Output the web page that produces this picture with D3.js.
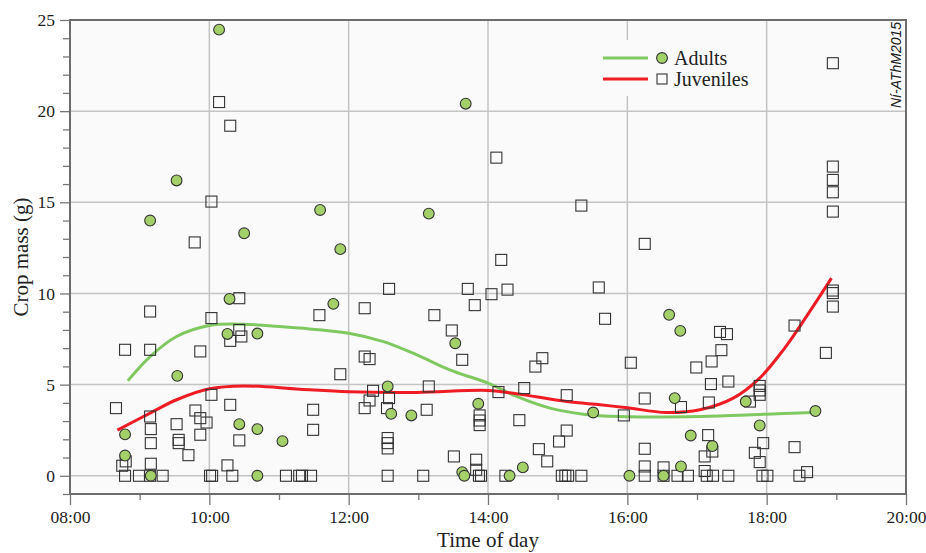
<!DOCTYPE html>
<html>
<head>
<meta charset="utf-8">
<script src="https://cdn.jsdelivr.net/npm/d3@7"></script>
<style>
  body { margin: 0; background: #fff; }
  text { font-family: "Liberation Serif", "Times New Roman", serif; fill: #222; }
</style>
</head>
<body>
<div id="chart"></div>
<script>
// adults: [hour of day, crop mass g]
var adults = [
  [10.14, 24.47], [13.68, 20.41], [9.53, 16.2], [11.59, 14.58], [9.15, 14.0], [13.15, 14.38],
  [10.50, 13.3], [11.88, 12.43], [10.29, 9.70], [11.78, 9.43], [10.26, 7.78], [10.69, 7.80],
  [13.53, 7.27], [9.54, 5.48], [12.56, 4.90], [13.86, 3.95], [12.61, 3.40], [12.90, 3.31],
  [15.51, 3.47], [10.43, 2.83], [10.69, 2.56], [8.79, 2.27], [11.05, 1.90], [8.79, 1.11],
  [9.16, 0], [10.69, 0], [13.63, 0.20], [13.66, 0], [14.31, 0], [14.50, 0.46],
  [16.60, 8.83], [16.76, 7.95], [16.68, 4.26], [17.70, 4.07], [18.70, 3.55], [17.90, 2.76],
  [16.91, 2.21], [17.22, 1.63], [16.77, 0.51], [16.03, 0], [16.52, 0]
];

var juveniles = [
  [10.14, 20.5], [10.30, 19.2], [10.03, 15.04], [9.79, 12.8], [14.12, 17.45], [15.34, 14.82],
  [14.19, 11.84], [18.95, 22.63], [18.95, 16.96], [18.95, 16.23], [18.95, 15.55], [18.95, 14.49],
  [16.25, 12.72],
  [10.43, 9.74], [9.15, 9.01], [10.03, 8.65], [10.43, 8.0], [10.46, 7.64], [10.30, 7.40],
  [8.79, 6.91], [9.15, 6.91], [9.87, 6.82], [10.03, 4.44], [8.66, 3.71], [10.30, 3.89],
  [9.80, 3.58], [9.15, 3.25], [9.87, 3.16], [9.16, 2.56], [9.96, 2.92], [9.53, 2.83],
  [9.56, 1.97], [9.56, 1.79], [9.87, 2.25], [10.43, 1.94], [9.16, 1.79], [9.70, 1.13],
  [8.75, 0.55], [8.80, 0.79], [9.16, 0.66], [10.26, 0.57], [11.49, 3.62], [11.49, 2.52],
  [11.58, 8.81],
  [8.79, 0], [8.99, 0], [9.15, 0], [9.33, 0], [10.01, 0], [10.04, 0], [10.33, 0], [11.10, 0],
  [11.29, 0], [11.33, 0], [11.46, 0],
  [12.58, 10.25], [13.71, 10.25], [14.05, 9.96], [14.28, 10.21], [15.59, 10.33], [12.23, 9.19],
  [13.81, 9.36], [13.23, 8.81], [15.68, 8.61], [13.48, 7.97], [13.63, 6.36], [12.23, 6.54],
  [12.30, 6.40], [11.88, 5.57], [14.78, 6.45], [14.68, 5.99], [13.15, 4.90], [14.52, 4.81],
  [14.15, 4.59], [12.35, 4.66], [12.58, 4.26], [12.30, 4.13], [15.13, 4.42], [12.23, 3.71],
  [12.55, 3.71], [13.12, 3.62], [13.88, 3.31], [13.88, 3.03], [13.88, 2.78], [14.45, 3.05],
  [12.56, 2.07], [12.56, 1.79], [12.56, 1.50], [13.51, 1.06], [13.83, 0.88], [13.83, 0.33],
  [14.73, 1.46], [14.85, 0.79], [15.02, 1.88], [15.13, 2.48],
  [12.56, 0], [13.07, 0], [13.87, 0], [13.90, 0], [14.25, 0], [15.06, 0], [15.11, 0],
  [15.15, 0], [15.34, 0],
  [18.95, 10.16], [18.95, 10.02], [18.95, 9.28], [18.40, 8.24], [17.33, 7.89], [17.43, 7.77],
  [17.35, 6.89], [17.21, 6.27], [16.99, 5.94], [16.05, 6.20], [18.85, 6.74], [17.20, 5.03],
  [17.45, 5.17], [17.90, 4.93], [17.90, 4.68], [17.90, 4.44], [16.25, 4.24], [16.77, 3.77],
  [17.17, 4.02], [17.76, 4.07], [15.95, 3.31], [17.16, 2.23], [17.22, 1.33], [17.11, 1.06],
  [17.95, 1.79], [17.83, 1.26], [17.90, 0.75], [18.40, 1.57], [16.25, 1.48], [16.25, 0.51],
  [16.52, 0.46], [17.11, 0.26], [18.58, 0.20],
  [16.25, 0], [16.52, 0], [16.72, 0], [16.87, 0], [17.14, 0], [17.23, 0], [17.45, 0],
  [17.94, 0], [18.01, 0], [18.47, 0]
];

// smoothed trend lines
var adultsFit = [
  [8.83, 5.21], [9.15, 6.54], [9.53, 7.64], [10.0, 8.24], [10.49, 8.31], [11.3, 8.1],
  [12.0, 7.82], [12.5, 7.36], [12.98, 6.63], [13.45, 5.81], [14.0, 5.08], [14.41, 4.35],
  [14.89, 3.71], [15.37, 3.38], [15.89, 3.25], [17.04, 3.25], [18.0, 3.38], [18.67, 3.47]
];
var juvFit = [
  [8.68, 2.5], [9.15, 3.44], [9.53, 4.17], [10.0, 4.77], [10.49, 4.93], [11.3, 4.75],
  [12.0, 4.61], [12.98, 4.57], [14.0, 4.68], [14.41, 4.5], [15.13, 4.07], [15.61, 3.89],
  [16.0, 3.73], [16.56, 3.47], [17.04, 3.62], [17.52, 4.26], [17.90, 5.36], [18.24, 6.91],
  [18.57, 8.73], [18.93, 10.84]
];

var xTicks = [8, 10, 12, 14, 16, 18, 20];
var yTicks = [0, 5, 10, 15, 20, 25];

var svgWidth = 926;
var svgHeight = 553;
var plot = { left: 70, right: 906, top: 20, bottom: 494 };

var svg = d3.select("#chart")
  .append("svg")
  .attr("width", svgWidth)
  .attr("height", svgHeight);

var x = d3.scaleLinear().domain([8, 20]).range([plot.left, plot.right]);
var y = d3.scaleLinear().domain([-1, 25]).range([plot.bottom, plot.top]);

// plot background
svg.append("rect")
  .attr("x", plot.left).attr("y", plot.top)
  .attr("width", plot.right - plot.left).attr("height", plot.bottom - plot.top)
  .attr("fill", "#fafafa");

// grid
svg.selectAll(".vgrid")
  .data(xTicks.slice(1, -1))
  .enter().append("line")
  .attr("x1", d => x(d)).attr("x2", d => x(d))
  .attr("y1", plot.top).attr("y2", plot.bottom)
  .attr("stroke", "#c4c4c4").attr("stroke-width", 1.5);

svg.selectAll(".hgrid")
  .data(yTicks.slice(0, -1))
  .enter().append("line")
  .attr("x1", plot.left).attr("x2", plot.right)
  .attr("y1", d => y(d)).attr("y2", d => y(d))
  .attr("stroke", "#c4c4c4").attr("stroke-width", 1.5);

// legend box covers the grid
svg.append("rect")
  .attr("x", 598).attr("y", 40)
  .attr("width", 160).attr("height", 56)
  .attr("fill", "#fafafa");

// axes
var fmt = d => (d < 10 ? "0" : "") + d + ":00";

svg.append("g")
  .attr("transform", `translate(0, ${plot.bottom})`)
  .call(d3.axisBottom(x).tickValues(xTicks).tickFormat(fmt).tickSize(11).tickPadding(6));
svg.append("g")
  .attr("transform", `translate(0, ${plot.bottom})`)
  .call(d3.axisBottom(x).tickValues(d3.range(9, 20, 2)).tickFormat("").tickSize(6));

svg.append("g")
  .attr("transform", `translate(${plot.left}, 0)`)
  .call(d3.axisLeft(y).tickValues(yTicks).tickSize(10).tickPadding(5));
svg.append("g")
  .attr("transform", `translate(${plot.left}, 0)`)
  .call(d3.axisLeft(y).tickValues(d3.range(-1, 25).filter(d => d % 5 != 0)).tickFormat("").tickSize(7));

svg.selectAll(".domain").remove();
svg.selectAll(".tick line").attr("stroke", "#777").attr("stroke-width", 1.3);
svg.selectAll(".tick text")
  .style("font-family", "'Liberation Serif', serif")
  .style("font-size", "17.5px")
  .style("fill", "#222");

// frame
svg.append("rect")
  .attr("x", plot.left).attr("y", plot.top)
  .attr("width", plot.right - plot.left).attr("height", plot.bottom - plot.top)
  .attr("fill", "none")
  .attr("stroke", "#6d6d6d").attr("stroke-width", 2);

// trend lines
var line = d3.line()
  .x(d => x(d[0]))
  .y(d => y(d[1]))
  .curve(d3.curveCatmullRom);

svg.append("path")
  .datum(adultsFit)
  .attr("d", line)
  .attr("fill", "none")
  .attr("stroke", "#80c860")
  .attr("stroke-width", 3);

svg.append("path")
  .datum(juvFit)
  .attr("d", line)
  .attr("fill", "none")
  .attr("stroke", "#ee1c24")
  .attr("stroke-width", 3);

// points
svg.selectAll(".juv")
  .data(juveniles)
  .enter().append("rect")
  .attr("x", d => x(d[0]) - 5.5)
  .attr("y", d => y(d[1]) - 5.5)
  .attr("width", 11).attr("height", 11)
  .attr("fill", "none")
  .attr("stroke", "#333")
  .attr("stroke-width", 1.1);

svg.selectAll(".adult")
  .data(adults)
  .enter().append("circle")
  .attr("cx", d => x(d[0]))
  .attr("cy", d => y(d[1]))
  .attr("r", 5.4)
  .attr("fill", "#a4d06a")
  .attr("stroke", "#333")
  .attr("stroke-width", 1.1);

// legend
svg.append("line")
  .attr("x1", 603).attr("x2", 648).attr("y1", 58).attr("y2", 58)
  .attr("stroke", "#80c860").attr("stroke-width", 3);
svg.append("line")
  .attr("x1", 603).attr("x2", 648).attr("y1", 79).attr("y2", 79)
  .attr("stroke", "#ee1c24").attr("stroke-width", 3);
svg.append("circle")
  .attr("cx", 662).attr("cy", 58).attr("r", 5.4)
  .attr("fill", "#a4d06a").attr("stroke", "#333").attr("stroke-width", 1.1);
svg.append("rect")
  .attr("x", 657).attr("y", 74).attr("width", 10).attr("height", 10)
  .attr("fill", "none").attr("stroke", "#333").attr("stroke-width", 1.1);
svg.append("text")
  .attr("x", 674).attr("y", 64.5)
  .attr("font-size", "20px")
  .text("Adults");
svg.append("text")
  .attr("x", 674).attr("y", 86)
  .attr("font-size", "20px")
  .text("Juveniles");

// watermark
svg.append("text")
  .attr("transform", "translate(901, 108) rotate(-90)")
  .style("font-family", "'Liberation Sans', Arial, sans-serif")
  .style("font-style", "italic")
  .attr("font-size", "14px")
  .text("Ní-AThM2015");

// axis titles
svg.append("text")
  .attr("x", (plot.left + plot.right) / 2)
  .attr("y", 547)
  .attr("text-anchor", "middle")
  .attr("font-size", "21px")
  .text("Time of day");

svg.append("text")
  .attr("transform", `translate(28, ${(plot.top + plot.bottom) / 2}) rotate(-90)`)
  .attr("text-anchor", "middle")
  .attr("font-size", "21px")
  .text("Crop mass (g)");
</script>
</body>
</html>
